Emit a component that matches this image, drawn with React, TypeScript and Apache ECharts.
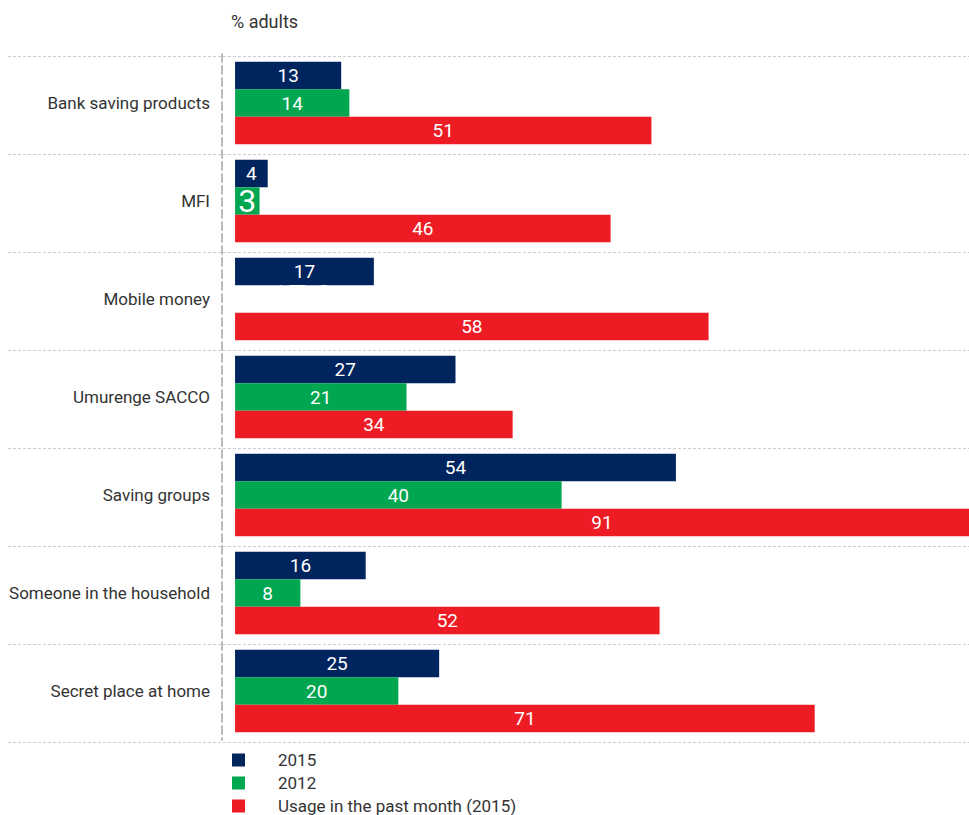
import React, { useEffect, useRef } from "react";
import * as echarts from "echarts";

const categories = [
  "Bank saving products",
  "MFI",
  "Mobile money",
  "Umurenge SACCO",
  "Saving groups",
  "Someone in the household",
  "Secret place at home",
];
const seriesNames = ["2015", "2012", "Usage in the past month (2015)"];
const values2015 = [13, 4, 17, 27, 54, 16, 25];
const values2012 = [14, 3, 17.8, 21, 40, 8, 20];
const valuesUsage = [51, 46, 58, 34, 91, 52, 71];
const colors = ["#00245d", "#00a650", "#ed1c24"];

const FONT = "Roboto, 'Liberation Sans', Arial, sans-serif";

export default function App() {
  const ref = useRef<HTMLDivElement>(null);
  useEffect(() => {
    if (!ref.current) return;
    const chart = echarts.init(ref.current, undefined, { renderer: "svg" });
    const labelBase = {
      show: true,
      position: "inside",
      color: "#ffffff",
      fontSize: 19,
      fontFamily: FONT,
    };
    const data2012 = values2012.map((v, i) => {
      if (categories[i] === "MFI") {
        return { value: v, label: { fontSize: 32 } };
      }
      if (categories[i] === "Mobile money") {
        return {
          value: v,
          itemStyle: { color: "rgba(255,255,255,0)" },
          label: { fontSize: 32, offset: [-6, -3] },
        };
      }
      return v;
    });
    chart.setOption({
      animation: false,
      textStyle: { fontFamily: FONT },
      title: {
        text: "% adults",
        left: 231,
        top: 12,
        padding: 0,
        textStyle: { fontSize: 18, fontWeight: "normal", color: "#333", fontFamily: FONT },
      },
      legend: {
        orient: "vertical",
        left: 232,
        top: 751,
        padding: 0,
        itemWidth: 13,
        itemHeight: 13,
        itemGap: 5,
        icon: "rect",
        data: seriesNames,
        textStyle: { fontSize: 17, color: "#333", fontFamily: FONT, padding: [0, 0, 0, 28], lineHeight: 18 },
      },
      grid: [
        { left: 222, right: 0, top: 54, bottom: 75, containLabel: false, outerBoundsMode: "none" },
        { left: 8, right: 0, top: 56, bottom: 73, containLabel: false, outerBoundsMode: "none" },
      ],
      xAxis: [
        { type: "value", gridIndex: 0, min: -1.6, max: 89.9, show: false },
        { type: "value", gridIndex: 1, min: 0, max: 1, show: false },
      ],
      yAxis: [
        {
          type: "category",
          gridIndex: 0,
          data: categories,
          inverse: true,
          axisLine: { show: true, onZero: false, lineStyle: { color: "#bbbbbb", width: 2, type: [8, 4] } },
          axisTick: { show: false },
          axisLabel: { fontSize: 17, color: "#333", margin: 12, fontFamily: FONT },
          splitLine: { show: false },
        },
        {
          type: "category",
          gridIndex: 1,
          data: categories,
          inverse: true,
          axisLine: { show: false },
          axisTick: { show: false },
          axisLabel: { show: false },
          splitLine: { show: true, interval: 0, lineStyle: { color: "#cccccc", width: 1, type: [3, 2] } },
        },
      ],
      series: [
        {
          name: seriesNames[0],
          type: "bar",
          xAxisIndex: 0,
          yAxisIndex: 0,
          data: values2015,
          itemStyle: { color: colors[0] },
          barGap: "0%",
          barCategoryGap: "16%",
          label: labelBase,
        },
        {
          name: seriesNames[1],
          type: "bar",
          xAxisIndex: 0,
          yAxisIndex: 0,
          data: data2012,
          itemStyle: { color: colors[1] },
          barGap: "0%",
          barCategoryGap: "16%",
          label: labelBase,
        },
        {
          name: seriesNames[2],
          type: "bar",
          xAxisIndex: 0,
          yAxisIndex: 0,
          data: valuesUsage,
          itemStyle: { color: colors[2] },
          barGap: "0%",
          barCategoryGap: "16%",
          label: labelBase,
        },
      ],
    });
    return () => chart.dispose();
  }, []);
  return (
    <div
      ref={ref}
      style={{ position: "fixed", left: 0, top: 0, width: 969, height: 815, background: "#fff" }}
    />
  );
}
